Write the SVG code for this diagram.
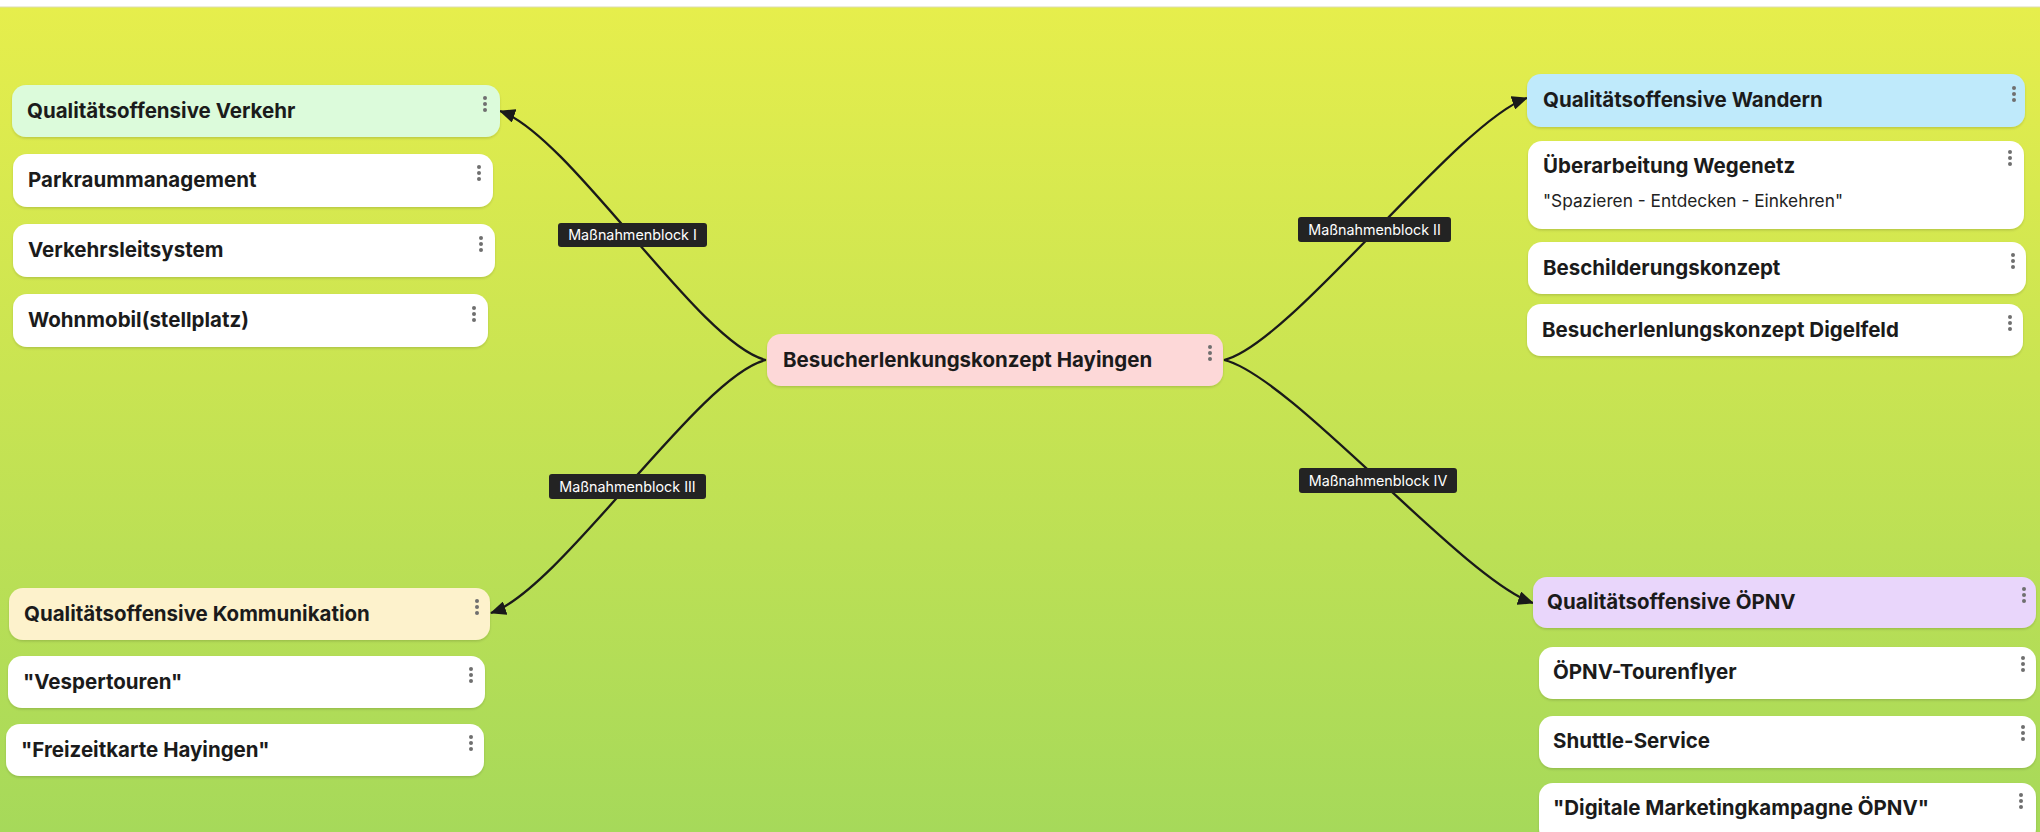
<svg xmlns="http://www.w3.org/2000/svg" width="2040" height="832" viewBox="0 0 2040 832">
<defs>
<linearGradient id="bg" x1="0" y1="0" x2="0" y2="1">
<stop offset="0" stop-color="#e6ee4c"/>
<stop offset="0.45" stop-color="#c9e452"/>
<stop offset="1" stop-color="#a6d95a"/>
</linearGradient>
<filter id="sh" x="-5%" y="-20%" width="110%" height="150%">
<feDropShadow dx="0" dy="1.5" stdDeviation="1.2" flood-color="#000" flood-opacity="0.14"/>
</filter>
<marker id="arr" viewBox="0 0 16 14" refX="15" refY="7" markerWidth="16" markerHeight="14" markerUnits="userSpaceOnUse" orient="auto">
<path d="M0,0 L16,7 L0,14 Z" fill="#1a1a1a"/>
</marker>
<g id="dots"><circle cx="0" cy="0" r="2" fill="#6f6f6f"/><circle cx="0" cy="6" r="2" fill="#6f6f6f"/><circle cx="0" cy="12" r="2" fill="#6f6f6f"/></g>
</defs>
<style>
.box{filter:url(#sh);}
.w{fill:#ffffff;}
.t{font-family:Inter,"Noto Sans","Liberation Sans",sans-serif;font-size:20.5px;font-weight:700;fill:#1b1b1b;}
.s{font-family:Inter,"Noto Sans","Liberation Sans",sans-serif;font-size:17.3px;font-weight:400;fill:#222;}
.edge{fill:none;stroke:#1a1a1a;stroke-width:2.3;}
.lb{fill:#232323;}
.lt{font-family:Inter,"Noto Sans","Liberation Sans",sans-serif;font-size:14.3px;font-weight:400;fill:#ffffff;text-anchor:middle;}
</style>
<rect x="0" y="0" width="2040" height="832" fill="#ffffff"/>
<rect x="0" y="7" width="2040" height="825" fill="url(#bg)"/>
<line x1="0" y1="7" x2="2040" y2="7" stroke="#dcdcb0" stroke-width="1"/>

<g id="connectors">
<path class="edge" d="M766,360 C700,345 570,135 500,111" marker-end="url(#arr)"/>
<path class="edge" d="M1224,360 C1290,345 1457,122 1527,98" marker-end="url(#arr)"/>
<path class="edge" d="M766,360 C700,375 561,589 491,613" marker-end="url(#arr)"/>
<path class="edge" d="M1224,360 C1290,375 1463,579 1533,603" marker-end="url(#arr)"/>
<g id="label-I"><rect class="lb" x="558" y="223" width="149" height="24" rx="3"/><text class="lt" x="632.5" y="240">Maßnahmenblock I</text></g>
<g id="label-II"><rect class="lb" x="1298" y="217" width="153" height="25" rx="3"/><text class="lt" x="1374.5" y="234.5">Maßnahmenblock II</text></g>
<g id="label-III"><rect class="lb" x="549" y="474" width="157" height="25" rx="3"/><text class="lt" x="627.5" y="491.5">Maßnahmenblock III</text></g>
<g id="label-IV"><rect class="lb" x="1299" y="468" width="158" height="25" rx="3"/><text class="lt" x="1378" y="485.5">Maßnahmenblock IV</text></g>
</g>

<g id="n-center"><rect class="box" x="767" y="334" width="456" height="52" rx="14" fill="#fdd8d8"/><text class="t" x="783" y="367">Besucherlenkungskonzept Hayingen</text><use href="#dots" x="1210" y="347"/></g>

<g id="n-verkehr"><rect class="box" x="12" y="85" width="488" height="52" rx="14" fill="#dcfbdb"/><text class="t" x="27" y="118">Qualitätsoffensive Verkehr</text><use href="#dots" x="485" y="98"/></g>
<g id="n-parkraum"><rect class="box w" x="13" y="154" width="480" height="53" rx="14"/><text class="t" x="28" y="187">Parkraummanagement</text><use href="#dots" x="479" y="167"/></g>
<g id="n-verkehrsleit"><rect class="box w" x="13" y="224" width="482" height="53" rx="14"/><text class="t" x="28" y="257">Verkehrsleitsystem</text><use href="#dots" x="481" y="238"/></g>
<g id="n-wohnmobil"><rect class="box w" x="13" y="294" width="475" height="53" rx="14"/><text class="t" x="28" y="327">Wohnmobil(stellplatz)</text><use href="#dots" x="474" y="308"/></g>

<g id="n-wandern"><rect class="box" x="1527" y="74" width="498" height="53" rx="14" fill="#bfeafb"/><text class="t" x="1543" y="107">Qualitätsoffensive Wandern</text><use href="#dots" x="2014" y="88"/></g>
<g id="n-wegenetz"><rect class="box w" x="1528" y="141" width="496" height="88" rx="14"/><text class="t" x="1543" y="173">Überarbeitung Wegenetz</text><text class="s" x="1543" y="207">"Spazieren - Entdecken - Einkehren"</text><use href="#dots" x="2010" y="152"/></g>
<g id="n-beschilderung"><rect class="box w" x="1528" y="242" width="498" height="52" rx="14"/><text class="t" x="1543" y="275">Beschilderungskonzept</text><use href="#dots" x="2013" y="255"/></g>
<g id="n-digelfeld"><rect class="box w" x="1527" y="304" width="496" height="52" rx="14"/><text class="t" x="1542" y="337">Besucherlenlungskonzept Digelfeld</text><use href="#dots" x="2010" y="317"/></g>

<g id="n-kommunikation"><rect class="box" x="9" y="588" width="481" height="52" rx="14" fill="#fdf2cc"/><text class="t" x="24" y="621">Qualitätsoffensive Kommunikation</text><use href="#dots" x="477" y="601"/></g>
<g id="n-vesper"><rect class="box w" x="8" y="656" width="477" height="52" rx="14"/><text class="t" x="23" y="689">"Vespertouren"</text><use href="#dots" x="471" y="669"/></g>
<g id="n-freizeit"><rect class="box w" x="6" y="724" width="478" height="52" rx="14"/><text class="t" x="21" y="757">"Freizeitkarte Hayingen"</text><use href="#dots" x="471" y="737"/></g>

<g id="n-oepnv"><rect class="box" x="1533" y="577" width="503" height="51" rx="14" fill="#e9d6fb"/><text class="t" x="1547" y="609">Qualitätsoffensive ÖPNV</text><use href="#dots" x="2024" y="589"/></g>
<g id="n-tourenflyer"><rect class="box w" x="1539" y="647" width="497" height="52" rx="14"/><text class="t" x="1553" y="679">ÖPNV-Tourenflyer</text><use href="#dots" x="2023" y="658"/></g>
<g id="n-shuttle"><rect class="box w" x="1539" y="716" width="497" height="52" rx="14"/><text class="t" x="1553" y="748">Shuttle-Service</text><use href="#dots" x="2023" y="727"/></g>
<g id="n-digital"><rect class="box w" x="1539" y="783" width="497" height="60" rx="14"/><text class="t" x="1553" y="815">"Digitale Marketingkampagne ÖPNV"</text><use href="#dots" x="2021" y="795"/></g>
</svg>
